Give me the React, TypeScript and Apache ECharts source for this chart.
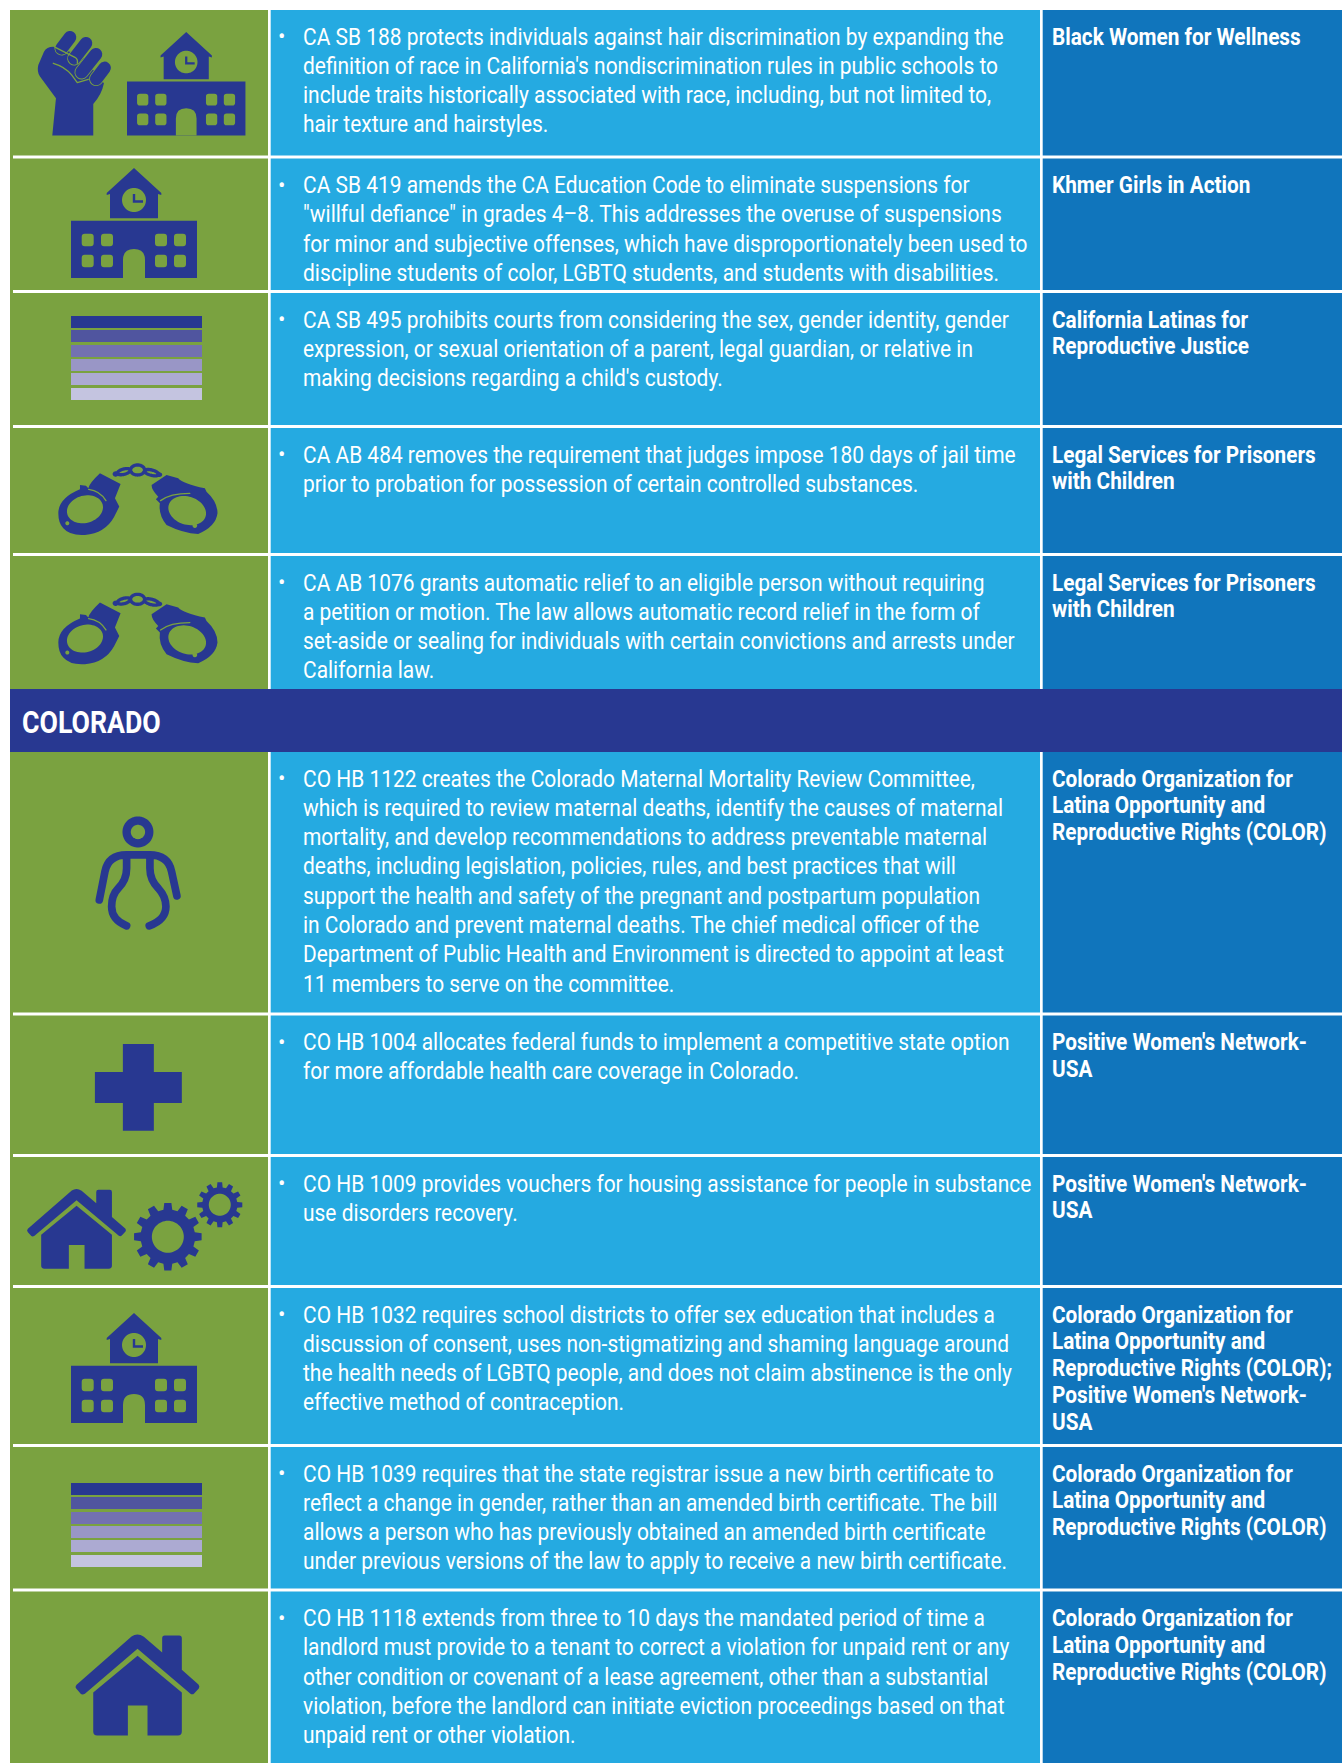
import React, { useEffect, useRef } from "react";
import * as echarts from "echarts";

const WIDTH = 1342;
const HEIGHT = 1763;

const GREEN = "#7AA240";
const LIGHT = "#25AAE1";
const DARK = "#1075BC";
const NAVY = "#283891";
const STRIPE_COLORS = ["#283891", "#50559F", "#7371B1", "#9996C6", "#ACAAD2", "#C4C4E0"];

const sectionTitle = "COLORADO";

const descriptions: string[][] = [
  [
    "CA SB 188 protects individuals against hair discrimination by expanding the",
    "definition of race in California's nondiscrimination rules in public schools to",
    "include traits historically associated with race, including, but not limited to,",
    "hair texture and hairstyles.",
  ],
  [
    "CA SB 419 amends the CA Education Code to eliminate suspensions for",
    "\"willful defiance\" in grades 4–8. This addresses the overuse of suspensions",
    "for minor and subjective offenses, which have disproportionately been used to",
    "discipline students of color, LGBTQ students, and students with disabilities.",
  ],
  [
    "CA SB 495 prohibits courts from considering the sex, gender identity, gender",
    "expression, or sexual orientation of a parent, legal guardian, or relative in",
    "making decisions regarding a child's custody.",
  ],
  [
    "CA AB 484 removes the requirement that judges impose 180 days of jail time",
    "prior to probation for possession of certain controlled substances.",
  ],
  [
    "CA AB 1076 grants automatic relief to an eligible person without requiring",
    "a petition or motion. The law allows automatic record relief in the form of",
    "set-aside or sealing for individuals with certain convictions and arrests under",
    "California law.",
  ],
  [
    "CO HB 1122 creates the Colorado Maternal Mortality Review Committee,",
    "which is required to review maternal deaths, identify the causes of maternal",
    "mortality, and develop recommendations to address preventable maternal",
    "deaths, including legislation, policies, rules, and best practices that will",
    "support the health and safety of the pregnant and postpartum population",
    "in Colorado and prevent maternal deaths. The chief medical officer of the",
    "Department of Public Health and Environment is directed to appoint at least",
    "11 members to serve on the committee.",
  ],
  [
    "CO HB 1004 allocates federal funds to implement a competitive state option",
    "for more affordable health care coverage in Colorado.",
  ],
  [
    "CO HB 1009 provides vouchers for housing assistance for people in substance",
    "use disorders recovery.",
  ],
  [
    "CO HB 1032 requires school districts to offer sex education that includes a",
    "discussion of consent, uses non-stigmatizing and shaming language around",
    "the health needs of LGBTQ people, and does not claim abstinence is the only",
    "effective method of contraception.",
  ],
  [
    "CO HB 1039 requires that the state registrar issue a new birth certificate to",
    "reflect a change in gender, rather than an amended birth certificate. The bill",
    "allows a person who has previously obtained an amended birth certificate",
    "under previous versions of the law to apply to receive a new birth certificate.",
  ],
  [
    "CO HB 1118 extends from three to 10 days the mandated period of time a",
    "landlord must provide to a tenant to correct a violation for unpaid rent or any",
    "other condition or covenant of a lease agreement, other than a substantial",
    "violation, before the landlord can initiate eviction proceedings based on that",
    "unpaid rent or other violation.",
  ],
];

const COLOR_ORG = ["Colorado Organization for", "Latina Opportunity and", "Reproductive Rights (COLOR)"];
const PWN_ORG = ["Positive Women's Network-", "USA"];
const LSPC_ORG = ["Legal Services for Prisoners", "with Children"];

const organizations: string[][] = [
  ["Black Women for Wellness"],
  ["Khmer Girls in Action"],
  ["California Latinas for", "Reproductive Justice"],
  LSPC_ORG,
  LSPC_ORG,
  COLOR_ORG,
  PWN_ORG,
  PWN_ORG,
  ["Colorado Organization for", "Latina Opportunity and", "Reproductive Rights (COLOR);", "Positive Women's Network-", "USA"],
  COLOR_ORG,
  COLOR_ORG,
];

// layout: top and bottom edge of each table row
const rowEdges: [number, number][] = [
  [10, 155.5], [158.5, 290], [293, 425], [428, 553], [556, 689],
  [752, 1012.5], [1015.5, 1154], [1157, 1285], [1288, 1444], [1447, 1588.5], [1591.5, 1763],
];
const headerEdges: [number, number] = [689, 752];
const COL1 = [10, 268];
const COL2 = [270.7, 1040];
const COL3 = [1042.7, WIDTH];
const FIRST_LINE = 26.5;
const DESC_PITCH = 29.3;
const ORG_PITCH = 26.8;
const DESC_X = 303;
const BULLET_X = 278;
const ORG_X = 1052;
const DESC_SIZE = 24.5;
const DESC_SCALE = 0.855;
const ORG_SIZE = 24.5;
const ORG_SCALE = 0.848;
const TITLE_SIZE = 32;
const TITLE_SCALE = 0.835;
const FONT = "Roboto";

// ---- icon path helpers ----
const rr = (x: number, y: number, w: number, h: number, r: number) =>
  `M${x + r},${y}L${x + w - r},${y}Q${x + w},${y} ${x + w},${y + r}L${x + w},${y + h - r}Q${x + w},${y + h} ${x + w - r},${y + h}L${x + r},${y + h}Q${x},${y + h} ${x},${y + h - r}L${x},${y + r}Q${x},${y} ${x + r},${y}Z`;

const ell = (cx: number, cy: number, rx: number, ry: number, rot = 0) => {
  const a = (rot * Math.PI) / 180;
  const pts: string[] = [];
  for (let i = 0; i < 60; i++) {
    const t = (i / 60) * Math.PI * 2;
    const px = rx * Math.cos(t);
    const py = ry * Math.sin(t);
    pts.push(`${(cx + px * Math.cos(a) - py * Math.sin(a)).toFixed(2)},${(cy + px * Math.sin(a) + py * Math.cos(a)).toFixed(2)}`);
  }
  return `M${pts.join("L")}Z`;
};

const gear = (cx: number, cy: number, outer: number, root: number, teeth: number) => {
  const pts: string[] = [];
  const step = (Math.PI * 2) / teeth;
  for (let i = 0; i < teeth; i++) {
    const c = i * step - Math.PI / 2;
    const seq: [number, number][] = [
      [root, c - step * 0.31],
      [outer, c - step * 0.2],
      [outer, c + step * 0.2],
      [root, c + step * 0.31],
    ];
    seq.forEach(([r, t]) => pts.push(`${(cx + r * Math.cos(t)).toFixed(2)},${(cy + r * Math.sin(t)).toFixed(2)}`));
  }
  return `M${pts.join("L")}Z`;
};

const SCHOOL_WINDOW_X = [10.7, 30, 84, 103];
const SCHOOL_WINDOW_Y = [65.7, 86.7];

const shapes: Record<string, string> = {
  schoolBody:
    "M0,52.7L126,52.7L126,110L0,110Z" +
    "M39,26L39,50.3L87,50.3L87,26L90.3,27L90.3,25L63,0L35.7,25L35.7,27Z",
  schoolHoles:
    SCHOOL_WINDOW_X.flatMap((x) => SCHOOL_WINDOW_Y.map((y) => rr(x, y, 12, 12.5, 3))).join("") +
    "M52,110L52,92Q52,81 63,81Q74,81 74,92L74,110Z" +
    ell(63, 32, 12, 12),
  schoolHands: "M61.8,26L64.2,26L64.2,32.3L72,32.3L72,34.7L61.8,34.7Z",
  palm: "M100,80Q80,80 72,95L55,135Q50,155 60,170L108,235L97,347L220,347L220,252Q245,225 252,190L180,100L150,95Z",
  finger1: "M150,52L125,85",
  finger2: "M198,70L163,115",
  finger3: "M228,103L185,157",
  finger4: "M254,144L229,177",
  thumbLines: "M106,82L165,112Q175,118 172,130M100,130Q135,140 155,165L172,188L205,178",
  cuffLeft:
    "M25,160Q25,115 90,88L90,75L108,77L115,85Q118,70 150,40L212,72L195,115L208,140L192,172Q165,220 105,225Q60,228 40,205Q25,190 25,160Z",
  cuffRight:
    "M305,75L350,45L385,55Q400,72 465,85L470,95Q503,125 503,160Q498,200 445,222Q400,220 350,195Q325,165 330,130L318,118L325,110Q305,90 305,75Z",
  cuffHoles:
    ell(105, 148, 55, 41, -15) + ell(52, 190, 6, 6) + ell(412, 152, 58, 42, 18) + ell(435, 197, 7, 7),
  cuffCurves: "M116,88Q150,92 168,122M332,122Q360,100 420,100",
  chainLinks: ell(222, 35, 20, 8, -15) + ell(263, 30, 21, 15) + ell(305, 38, 22, 8, 15),
  chainEnds: ell(197, 42, 9, 8) + ell(328, 44, 9, 7),
  head: ell(174, 96, 34, 34),
  body:
    "M58,300L75,215Q85,165 140,165L208,165Q265,165 275,215L291,288" +
    "M140,165L140,205Q140,240 115,265Q95,285 95,320Q95,360 140,378" +
    "M210,165L210,205Q210,240 235,265Q258,290 258,320Q258,360 208,378",
  cross: "M369,132L462,132L462,216L546,216L546,309L462,309L462,393L369,393L369,309L285,309L285,216L369,216Z",
  roof:
    "M395,560L230,705Q224,712 230,718L243,733Q248,736 255,732L413,597L572,732Q578,736 583,731L597,716Q601,710 596,704L546,660L546,565Q546,557 538,557L495,557Q487,557 487,565L487,608L432,561Q413,547 395,560Z",
  house:
    "M413,618L546,728L546,845Q546,857 534,857L443,857L443,767L384,767L384,857L292,857Q280,857 280,845L280,728Z",
  gearBig: gear(504, 711, 102, 82, 12),
  gearSmall: gear(660, 615, 68, 53, 12),
  gearHoles: ell(504, 711, 48, 48) + ell(660, 615, 33, 33),
};

Object.entries(shapes).forEach(([name, d]) => {
  echarts.graphic.registerShape(name, echarts.graphic.extendPath(d, {}));
});

const solid = (type: string, x: number, y: number, sx: number, sy: number, fill: string) => ({
  type, x, y, scaleX: sx, scaleY: sy, silent: true, style: { fill },
});
const stroked = (type: string, x: number, y: number, s: number, stroke: string, lineWidth: number) => ({
  type, x, y, scaleX: s, scaleY: s, silent: true,
  style: { fill: "none", stroke, lineWidth, lineCap: "round", lineJoin: "round" },
});

const school = (x: number, y: number, s: number) => [
  solid("schoolBody", x, y, s, s, NAVY),
  solid("schoolHoles", x, y, s, s, GREEN),
  solid("schoolHands", x, y, s, s, NAVY),
];

const fist = (x: number, y: number, s: number) => [
  solid("palm", x, y, s, s, NAVY),
  ...(["finger1", "finger2", "finger3", "finger4"] as const).flatMap((f) => [
    stroked(f, x, y, s, GREEN, 43),
    stroked(f, x, y, s, NAVY, 38),
  ]),
  stroked("thumbLines", x, y, s, GREEN, 4),
];

const cuffs = (x: number, y: number, s: number) => [
  solid("cuffLeft", x, y, s, s, NAVY),
  solid("cuffRight", x, y, s, s, NAVY),
  solid("cuffHoles", x, y, s, s, GREEN),
  stroked("cuffCurves", x, y, s, GREEN, 4),
  stroked("chainLinks", x, y, s, NAVY, 10),
  solid("chainEnds", x, y, s, s, NAVY),
];

const stripes = (x: number, y: number) =>
  [0, 14, 29, 43, 57, 72].map((dy, i) => ({
    type: "rect", silent: true,
    shape: { x, y: y + dy, width: 131, height: 12 },
    style: { fill: STRIPE_COLORS[i] },
  }));

const figure = (x: number, y: number, s: number) => [
  stroked("head", x, y, s, NAVY, 25),
  stroked("body", x, y, s, NAVY, 23),
];

const houseIcon = (x: number, y: number, sx: number, sy: number) => [
  solid("roof", x, y, sx, sy, NAVY),
  solid("house", x, y, sx, sy, NAVY),
];

const rowIcons = [
  ...fist(20, 20, 1 / 3),
  ...school(127, 32, 0.94),
  ...school(71, 168, 1),
  ...stripes(71, 316),
  ...cuffs(50, 460, 1 / 3),
  ...cuffs(50, 589.3, 1 / 3),
  ...figure(80, 800, 1 / 3),
  solid("cross", 0, 1000, 1 / 3, 1 / 3, NAVY),
  ...houseIcon(-33.3, 1043.3, 0.2655, 0.263),
  solid("gearBig", 0, 1000, 1 / 3, 1 / 3, NAVY),
  solid("gearSmall", 0, 1000, 1 / 3, 1 / 3, NAVY),
  solid("gearHoles", 0, 1000, 1 / 3, 1 / 3, GREEN),
  ...school(71, 1313, 1),
  ...stripes(71, 1483),
  ...houseIcon(0, 1450, 1 / 3, 1 / 3),
];

const band = (x0: number, x1: number, y0: number, y1: number, fill: string) => ({
  type: "rect", silent: true,
  shape: { x: x0, y: y0, width: x1 - x0, height: y1 - y0 },
  style: { fill },
});

const textEl = (text: string, x: number, y: number, size: number, weight: number, scale: number) => ({
  type: "text", x, y, scaleX: scale, silent: true,
  style: {
    text, fill: "#ffffff", fontFamily: FONT, fontSize: size, fontWeight: weight,
    textAlign: "left", textVerticalAlign: "middle",
  },
});

const buildElements = () => {
  const els: any[] = [];
  rowEdges.forEach(([y0, y1]) => {
    els.push(band(COL1[0], COL1[1], y0, y1, GREEN));
    els.push(band(COL2[0], COL2[1], y0, y1, LIGHT));
    els.push(band(COL3[0], COL3[1], y0, y1, DARK));
  });
  // the first column's green runs unbroken down its left edge
  els.push(band(COL1[0], 13, rowEdges[0][0], headerEdges[0], GREEN));
  els.push(band(COL1[0], 13, headerEdges[1], HEIGHT, GREEN));
  els.push(band(COL1[0], WIDTH, headerEdges[0], headerEdges[1], NAVY));
  els.push(textEl(sectionTitle, 22, (headerEdges[0] + headerEdges[1]) / 2 + 2, TITLE_SIZE, 700, TITLE_SCALE));
  els.push(...rowIcons);
  rowEdges.forEach(([y0], r) => {
    const first = y0 + FIRST_LINE;
    els.push(textEl("•", BULLET_X, first, 22, 400, 1));
    descriptions[r].forEach((line, i) => {
      els.push(textEl(line, DESC_X, first + i * DESC_PITCH, DESC_SIZE, 400, DESC_SCALE));
    });
    organizations[r].forEach((line, i) => {
      els.push(textEl(line, ORG_X, first + i * ORG_PITCH, ORG_SIZE, 700, ORG_SCALE));
    });
  });
  return els;
};

export default function App() {
  const ref = useRef<HTMLDivElement>(null);
  useEffect(() => {
    const chart = echarts.init(ref.current!, null, { renderer: "svg" });
    chart.setOption({
      animation: false,
      backgroundColor: "#ffffff",
      graphic: { elements: buildElements() },
    });
    return () => chart.dispose();
  }, []);
  return (
    <div
      ref={ref}
      style={{ position: "absolute", left: 0, top: 0, width: WIDTH, height: HEIGHT }}
    />
  );
}
